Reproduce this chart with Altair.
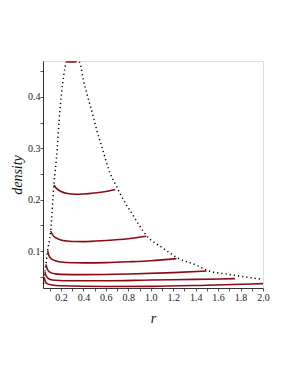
import altair as alt
import pandas as pd

# density curves (r, density)
c1_r = [0.25, 0.30, 0.34]
c1_d = [0.4685, 0.4680, 0.4685]
c2_r = [0.137, 0.16, 0.2, 0.25, 0.3, 0.35, 0.4, 0.5, 0.6, 0.683]
c2_d = [0.2287, 0.222, 0.216, 0.2125, 0.211, 0.2105, 0.211, 0.213, 0.216, 0.2197]
c3_r = [0.108, 0.13, 0.16, 0.2, 0.25, 0.3, 0.4, 0.6, 0.8, 0.96]
c3_d = [0.139, 0.130, 0.125, 0.1215, 0.1195, 0.1185, 0.1183, 0.1205, 0.124, 0.1287]
c4_r = [0.081, 0.1, 0.15, 0.2, 0.3, 0.4, 0.6, 0.8, 1.0, 1.229]
c4_d = [0.100, 0.088, 0.081, 0.0785, 0.0772, 0.0770, 0.0775, 0.079, 0.081, 0.0852]
c5_r = [0.066, 0.08, 0.1, 0.15, 0.2, 0.4, 0.8, 1.2, 1.497]
c5_d = [0.074, 0.064, 0.059, 0.0555, 0.0545, 0.054, 0.0552, 0.058, 0.061]
c6_r = [0.057, 0.07, 0.1, 0.15, 0.3, 0.6, 1.0, 1.4, 1.75]
c6_d = [0.059, 0.051, 0.045, 0.043, 0.042, 0.042, 0.0435, 0.0448, 0.0462]
c7_r = [0.05, 0.06, 0.08, 0.12, 0.2, 0.6, 1.0, 1.5, 2.0]
c7_d = [0.049, 0.041, 0.036, 0.034, 0.0325, 0.031, 0.0312, 0.0335, 0.0365]

# dotted boundary
left_r = [0.045, 0.05, 0.057, 0.066, 0.081, 0.108, 0.137, 0.167, 0.184, 0.205, 0.245]
left_d = [0.036, 0.049, 0.059, 0.074, 0.100, 0.139, 0.2287, 0.30, 0.355, 0.407, 0.4684]
right_r = [0.364, 0.376, 0.40, 0.43, 0.46, 0.489, 0.519, 0.564, 0.638, 0.683, 0.743,
           0.832, 0.96, 1.115, 1.235, 1.414, 1.503, 1.712, 2.0]
right_d = [0.4684, 0.460, 0.433, 0.407, 0.384, 0.361, 0.335, 0.303, 0.251, 0.231, 0.205,
           0.173, 0.1306, 0.1047, 0.087, 0.072, 0.0624, 0.054, 0.0448]

y_ticks = [0.05, 0.1, 0.15, 0.2, 0.25, 0.3, 0.35, 0.4, 0.45]
x_ticks = [0.1, 0.2, 0.3, 0.4, 0.5, 0.6, 0.7, 0.8, 0.9, 1.0, 1.1, 1.2, 1.3, 1.4, 1.5,
           1.6, 1.7, 1.8, 1.9, 2.0]

rows = []
for i, (rs, ds) in enumerate([(c1_r, c1_d), (c2_r, c2_d), (c3_r, c3_d), (c4_r, c4_d),
                              (c5_r, c5_d), (c6_r, c6_d), (c7_r, c7_d)]):
    for k, (r, d) in enumerate(zip(rs, ds)):
        rows.append({"s": f"c{i}", "o": k, "r": r, "d": d, "kind": "curve"})
for name, rs, ds in [("L", left_r, left_d), ("R", right_r, right_d)]:
    for k, (r, d) in enumerate(zip(rs, ds)):
        rows.append({"s": name, "o": k, "r": r, "d": d, "kind": "bound"})
data = pd.DataFrame(rows)

serif = "Liberation Serif, Times New Roman, serif"
xs = alt.Scale(domain=[0.04, 2.0], nice=False, zero=False)
ys = alt.Scale(domain=[0.028, 0.47], nice=False, zero=False)

xax = alt.Axis(values=x_ticks,
               labelExpr="(round(datum.value*10) % 2 == 0) ? format(datum.value, '.1f') : ''",
               title="r", titlePadding=9, labelPadding=1, labelOverlap=False, labelFlush=False)
yax = alt.Axis(values=y_ticks,
               labelExpr="(round(datum.value*100) % 10 == 0) ? format(datum.value, '.1f') : ''",
               title="density", titlePadding=3, labelPadding=0, labelOverlap=False, labelFlush=False)

base = alt.Chart(data).encode(
    x=alt.X("r:Q", scale=xs, axis=xax),
    y=alt.Y("d:Q", scale=ys, axis=yax),
    detail="s:N",
    order="o:Q",
)

dots = base.transform_filter(alt.datum.kind == "bound").mark_line(
    color="black", strokeWidth=1.5, strokeDash=[1.2, 3], interpolate="monotone")
lines = base.transform_filter(alt.datum.kind == "curve").mark_line(
    color="#8b0a14", strokeWidth=1.6, interpolate="monotone")

chart = alt.layer(dots, lines).properties(
    width=220, height=227,
    autosize=alt.AutoSizeParams(type="none"),
    padding={"left": 35, "top": 53, "right": 18, "bottom": 70},
).configure_view(stroke=None).configure(background="white", font=serif).configure_axis(
    labelFont=serif, labelFontSize=10, labelColor="#222",
    titleFont=serif, titleFontSize=14, titleFontStyle="italic", titleFontWeight="normal",
    titleColor="#111", tickSize=3, tickColor="#555", domainColor="#333", grid=False,
)

chart.save("out.html", embed_options={"renderer": "svg", "actions": False})
